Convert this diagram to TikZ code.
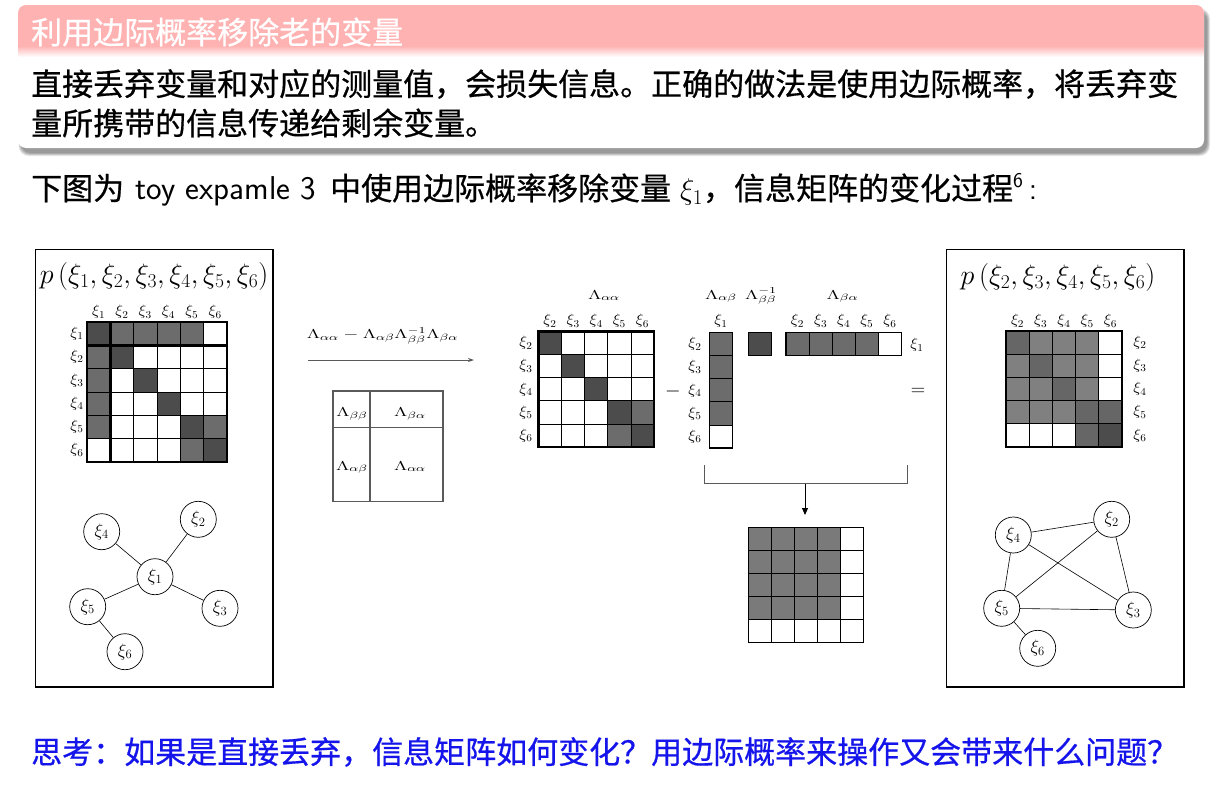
\RequirePackage{fix-cm}
\documentclass[tikz,border=0pt]{standalone}
\usepackage{amsmath}
\usepackage{graphicx}
\usepackage{fontspec}
\newfontfamily\cjk[FakeBold=0.6]{Noto Sans CJK SC}
\usetikzlibrary{arrows.meta}

\definecolor{titlepink}{RGB}{255,178,178}
\definecolor{qblue}{RGB}{20,20,235}
\definecolor{cD}{RGB}{76,76,76}
\definecolor{cM}{RGB}{108,108,108}
\definecolor{cR}{RGB}{122,122,122}
\definecolor{cL}{RGB}{128,128,128}
\definecolor{cK}{RGB}{102,102,102}
\definecolor{lineg}{RGB}{90,90,90}
\colorlet{cW}{white}

% widened math labels
\newcommand{\wlab}[1]{\scalebox{1.08}[1]{$#1$}}
\newcommand{\wlam}[1]{\scalebox{1.5}[1]{$#1$}}

% information matrix: x0, y0, cell size, list of rows of cell colours
\newcommand{\infomatrix}[4]{%
  \foreach \mrow [count=\ri] in {#4} {%
    \foreach \mcol [count=\cj] in \mrow {%
      \filldraw[fill=\mcol, draw=black, line width=0.7pt]
        ({#1+(\cj-1)*#3},{#2+(\ri-1)*#3}) rectangle ++(#3,#3);
    }%
  }%
}

\begin{document}
\begin{tikzpicture}[x=1pt,y=-1pt,
  lbl/.style={inner sep=0pt, font=\fontsize{15}{17}\selectfont},
  lam/.style={inner sep=0pt, anchor=base, font=\fontsize{13}{15}\selectfont},
  gnode/.style={circle, draw, line width=0.7pt, minimum size=36pt, inner sep=0pt, font=\fontsize{18}{20}\selectfont},
  gedge/.style={line width=0.6pt},
  panel/.style={draw, line width=1.6pt},
  cjkline/.style={inner sep=0pt, anchor=west, font=\fontsize{31}{36}\selectfont\cjk},
  outer/.style={line width=2.4pt}
]
\useasboundingbox (0,0) rectangle (1213,795);
\fill[white] (0,0) rectangle (1213,795);

% ---------- header block ----------
\foreach \e in {0,1,...,5}
  \fill[black, opacity=0.08, rounded corners=10pt] ({21-\e*0.5},{11-\e*0.5}) rectangle ({1207+\e*0.6},{153+\e*0.6});
\fill[white, rounded corners=8pt] (18,5) rectangle (1204,148);
\begin{scope}
  \clip[rounded corners=8pt] (18,5) rectangle (1204,148);
  \fill[titlepink] (18,5) rectangle (1204,46);
  \shade[top color=titlepink, bottom color=white] (18,46) rectangle (1204,57);
\end{scope}
\node[cjkline, text=white] (title) at (31,32) {利用边际概率移除老的变量};
\node[cjkline] (body1) at (31,84) {直接丢弃变量和对应的测量值，会损失信息。正确的做法是使用边际概率，将丢弃变};
\node[cjkline] (body2) at (31,123) {量所携带的信息传递给剩余变量。};

% ---------- caption line ----------
\node[cjkline] (cap) at (31,190) {下图为\hspace{11pt}{\sffamily\fontsize{33}{36}\selectfont toy expamle 3}\hspace{14pt}中使用边际概率移除变量\hspace{9pt}{\fontsize{30}{34}\selectfont$\xi_1$}，信息矩阵的变化过程{\sffamily\raisebox{12pt}{\fontsize{21}{22}\selectfont 6}\hspace{6pt}\fontsize{32}{34}\selectfont:}};

% ---------- left panel ----------
\draw[panel] (35.5,249.5) rectangle (273,687);
\node[inner sep=0pt, font=\fontsize{28}{32}\selectfont] (pl) at (154,276) {$p\left(\xi_1,\xi_2,\xi_3,\xi_4,\xi_5,\xi_6\right)$};
\infomatrix{87}{322}{23.3}{{cD,cM,cM,cM,cM,cW},{cM,cD,cW,cW,cW,cW},{cM,cW,cD,cW,cW,cW},{cM,cW,cW,cD,cW,cW},{cM,cW,cW,cW,cD,cM},{cW,cW,cW,cW,cM,cD}}
\draw[outer] (87,322) rectangle (226.8,461.8);
\draw[outer] (110.3,322) -- (110.3,461.8);
\draw[outer] (87,345.3) -- (226.8,345.3);
\foreach \k in {1,...,6} {
  \node[lbl] (lt\k) at ({87+(\k-0.5)*23.3},312) {\wlab{\xi_{\k}}};
  \node[lbl] (ll\k) at (77,{322+(\k-0.5)*23.3}) {\wlab{\xi_{\k}}};
}
% star-shaped graph
\node[gnode] (a1) at (155,576.7) {$\xi_1$};
\node[gnode] (a2) at (198.3,519.3) {$\xi_2$};
\node[gnode] (a3) at (220,608.3) {$\xi_3$};
\node[gnode] (a4) at (101.7,531.7) {$\xi_4$};
\node[gnode] (a5) at (87.7,606.7) {$\xi_5$};
\node[gnode] (a6) at (125,651.7) {$\xi_6$};
\draw[gedge] (a1) -- (a2);
\draw[gedge] (a1) -- (a3);
\draw[gedge] (a1) -- (a4);
\draw[gedge] (a1) -- (a5);
\draw[gedge] (a5) -- (a6);

% ---------- Schur complement arrow and block layout ----------
\node[lam] (schur) at (382.5,338.5) {\wlam{\Lambda_{\alpha\alpha}-\Lambda_{\alpha\beta}\Lambda_{\beta\beta}^{-1}\Lambda_{\beta\alpha}}};
\coordinate (arA) at (308,360);
\coordinate (arB) at (474,360);
\draw[lineg, line width=0.9pt, -{Stealth[length=6pt,width=4pt]}] (arA) -- (arB);

\node[draw=lineg, line width=1.2pt, minimum width=110pt, minimum height=110.5pt, inner sep=0pt] (blk) at (388,446.25) {};
\draw[lineg, line width=1.2pt] (370,391) -- (370,501.5);
\draw[lineg, line width=1.2pt] (333,427.5) -- (443,427.5);
\node[lam] (bbb) at (352,416.5) {\wlam{\Lambda_{\beta\beta}}};
\node[lam] (bba) at (410,416.5) {\wlam{\Lambda_{\beta\alpha}}};
\node[lam] (bab) at (352,470) {\wlam{\Lambda_{\alpha\beta}}};
\node[lam] (baa) at (410,470) {\wlam{\Lambda_{\alpha\alpha}}};

% ---------- Lambda_aa ----------
\node[lam] (taa) at (604,299) {\wlam{\Lambda_{\alpha\alpha}}};
\infomatrix{538.5}{331.5}{23.1}{{cD,cW,cW,cW,cW},{cW,cD,cW,cW,cW},{cW,cW,cD,cW,cW},{cW,cW,cW,cD,cM},{cW,cW,cW,cM,cD}}
\draw[outer] (538.5,331.5) rectangle (654,447);
\foreach \k [count=\n] in {2,...,6} {
  \node[lbl] (mt\k) at ({538.5+(\n-0.5)*23.1},321) {\wlab{\xi_{\k}}};
  \node[lbl] (ml\k) at (526,{331.5+(\n-0.5)*23.1}) {\wlab{\xi_{\k}}};
}
\node[inner sep=0pt, font=\fontsize{20}{22}\selectfont] (minus) at (673,391.5) {$-$};

% ---------- Lambda_ab, Lambda_bb^-1, Lambda_ba ----------
\node[lam] (tab) at (721,299) {\wlam{\Lambda_{\alpha\beta}}};
\node[lam] (tbb) at (761,299) {\wlam{\Lambda_{\beta\beta}^{-1}}};
\node[lam] (tba) at (842.5,299) {\wlam{\Lambda_{\beta\alpha}}};

\infomatrix{709.5}{332.5}{23.1}{{cM},{cM},{cM},{cM},{cW}}
\draw[line width=1.6pt] (709.5,332.5) rectangle (732.6,448);
\node[lbl] (ct1) at (721,321) {\wlab{\xi_1}};
\foreach \k [count=\n] in {2,...,6}
  \node[lbl] (cl\k) at (695,{332.5+(\n-0.5)*23.1}) {\wlab{\xi_{\k}}};

\filldraw[fill=cD, draw=black, line width=1.4pt] (748.5,332.5) rectangle (771.6,355.6);

\infomatrix{786}{332.5}{23.1}{{cM,cM,cM,cM,cW}}
\draw[line width=1.6pt] (786,332.5) rectangle (901.5,355.6);
\foreach \k [count=\n] in {2,...,6}
  \node[lbl] (rt\k) at ({786+(\n-0.5)*23.1},321) {\wlab{\xi_{\k}}};
\node[lbl] (rl1) at (917,345) {\wlab{\xi_1}};
\node[inner sep=0pt, font=\fontsize{20}{22}\selectfont] (equal) at (918,391.5) {$=$};

% ---------- bracket to product ----------
\coordinate (brL) at (704,465);
\coordinate (brR) at (907.5,465);
\coordinate (brM) at (805,483.5);
\coordinate (brT) at (805,515);
\draw[lineg, line width=0.9pt] (brL) |- (brM) -| (brR);
\draw[black, line width=0.9pt, -{Triangle[length=7pt,width=6pt]}] (brM) -- (brT);
\infomatrix{748.5}{527.5}{23}{{cR,cR,cR,cR,cW},{cR,cR,cR,cR,cW},{cR,cR,cR,cR,cW},{cR,cR,cR,cR,cW},{cW,cW,cW,cW,cW}}
\draw[line width=1.6pt] (748.5,527.5) rectangle (863.5,642.5);

% ---------- right panel ----------
\draw[panel] (946.5,249.5) rectangle (1184,687);
\node[inner sep=0pt, font=\fontsize{28}{32}\selectfont] (pr) at (1058,277) {$p\left(\xi_2,\xi_3,\xi_4,\xi_5,\xi_6\right)$};
\infomatrix{1006}{331}{23.2}{{cK,cL,cL,cL,cW},{cL,cK,cL,cL,cW},{cL,cL,cK,cL,cW},{cL,cL,cL,cK,cK},{cW,cW,cW,cK,cD}}
\draw[outer] (1006,331) rectangle (1122,447);
\foreach \k [count=\n] in {2,...,6} {
  \node[lbl] (pt\k) at ({1006+(\n-0.5)*23.2},321) {\wlab{\xi_{\k}}};
  \node[lbl] (pl\k) at (1140,{331+(\n-0.5)*23.2}) {\wlab{\xi_{\k}}};
}
\node[gnode] (b2) at (1111.7,519.3) {$\xi_2$};
\node[gnode] (b3) at (1133.3,610) {$\xi_3$};
\node[gnode] (b4) at (1013.3,535) {$\xi_4$};
\node[gnode] (b5) at (1001.7,608.3) {$\xi_5$};
\node[gnode] (b6) at (1037.7,648.3) {$\xi_6$};
\draw[gedge] (b4) -- (b2);
\draw[gedge] (b4) -- (b5);
\draw[gedge] (b4) -- (b3);
\draw[gedge] (b2) -- (b5);
\draw[gedge] (b2) -- (b3);
\draw[gedge] (b5) -- (b3);
\draw[gedge] (b5) -- (b6);

% ---------- question ----------
\node[cjkline, text=qblue] (quest) at (31,752) {思考：如果是直接丢弃，信息矩阵如何变化？用边际概率来操作又会带来什么问题？};
\end{tikzpicture}
\end{document}
